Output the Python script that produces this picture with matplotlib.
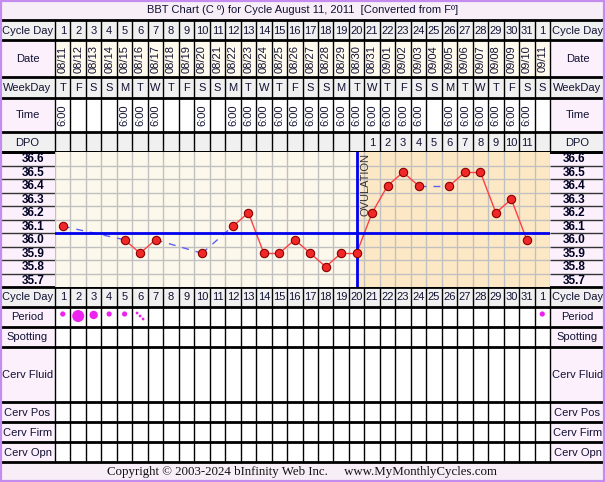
import matplotlib
matplotlib.use('Agg')
import matplotlib.pyplot as plt
from matplotlib.patches import Rectangle, Circle

plt.rcParams['font.family'] = ['Liberation Sans', 'DejaVu Sans']

# chart data
title = 'BBT Chart (C º) for Cycle August 11, 2011  [Converted from Fº]'
cycle_days = [str(d) for d in range(1, 32)] + ['1']
dates = ['08/%02d' % d for d in range(11, 32)] + ['09/%02d' % d for d in range(1, 12)]
weekdays = list('TFSSMTWTFSSMTWTFSSMTWTFSSMTWTFSS')
times = ['6:00', '', '', '', '6:00', '6:00', '6:00', '', '', '6:00', '', '6:00', '6:00',
         '6:00', '6:00', '6:00', '6:00', '6:00', '6:00', '6:00', '6:00', '6:00', '6:00',
         '6:00', '', '6:00', '6:00', '6:00', '6:00', '6:00', '6:00', '']
dpo = [''] * 20 + [str(i) for i in range(1, 12)] + ['']
temps = [36.1, None, None, None, 36.0, 35.9, 36.0, None, None, 35.9, None, 36.1, 36.2,
         35.9, 35.9, 36.0, 35.9, 35.8, 35.9, 35.9, 36.2, 36.4, 36.5, 36.4, None, 36.4,
         36.5, 36.5, 36.2, 36.3, 36.0]
temp_labels = ['36.6', '36.5', '36.4', '36.3', '36.2', '36.1', '36.0', '35.9', '35.8', '35.7']
coverline = 36.05
ovulation_day = 20
period = {1: 'light', 2: 'heavy', 3: 'medium', 4: 'light', 5: 'light', 6: 'spot', 32: 'light'}
copyright_text = 'Copyright © 2003-2024 bInfinity Web Inc.     www.MyMonthlyCycles.com'

W, H = 605, 482
fig = plt.figure(figsize=(W / 100, H / 100), dpi=100)
bg = fig.add_axes([0, 0, 1, 1])
bg.set_xlim(0, W)
bg.set_ylim(H, 0)
bg.axis('off')

x0, x1 = 55, 550
n = len(cycle_days)
cw = (x1 - x0) / n
txt = '#111133'
lav = '#fcf0fc'
gray = '#f0f0f0'

def rect(x, y, w, h, fc):
    bg.add_patch(Rectangle((x, y), w, h, fc=fc, ec='none', zorder=0))

def hline(y, lw=2, xa=0, xb=W, c='black'):
    bg.plot([xa, xb], [y, y], color=c, lw=lw, zorder=2, solid_capstyle='butt')

def vlines(ya, yb, c='black', lw=1):
    for i in range(n + 1):
        x = x0 + i * cw
        bg.plot([x, x], [ya, yb], color=c, lw=lw, zorder=2)

# title row
rect(0, 0, W, 20, '#f8eef8')
bg.text(303, 10, title, ha='center', va='center', fontsize=8, color=txt)

# header rows: (name, top, bottom, label bg, cell bg, values, rotation)
rows = [
    ('Cycle Day', 20, 40, gray, gray, cycle_days, 0),
    ('Date', 40, 77, lav, '#fffaee', dates, 90),
    ('WeekDay', 77, 98, gray, gray, weekdays, 0),
    ('Time', 98, 132, lav, 'white', times, 90),
    ('DPO', 132, 152, gray, gray, dpo, 0),
]
for name, ya, yb, lbg, cbg, vals, rot in rows:
    rect(0, ya, x0, yb - ya, lbg)
    rect(x1, ya, W - x1, yb - ya, lbg)
    rect(x0, ya, x1 - x0, yb - ya, cbg)
    ym = (ya + yb) / 2
    bg.text(x0 / 2, ym + 0.5, name, ha='center', va='center', fontsize=8, color=txt)
    bg.text((x1 + W) / 2, ym + 0.5, name, ha='center', va='center', fontsize=8, color=txt)
    for i, v in enumerate(vals):
        bg.text(x0 + (i + 0.5) * cw, ym + 0.5, v, ha='center', va='center', fontsize=8,
                rotation=rot, color=txt)
    vlines(ya, yb)
    hline(yb)
hline(20)

# temperature area label columns
ty0, ty1 = 152, 287
rect(0, ty0, x0, ty1 - ty0, lav)
rect(x1, ty0, W - x1, ty1 - ty0, lav)
rh = (ty1 - ty0) / len(temp_labels)
for i, t in enumerate(temp_labels):
    ym = ty0 + (i + 0.5) * rh
    bg.text(33, ym + 0.5, t, ha='center', va='center', fontsize=8.5, fontweight='bold', color='#000022')
    bg.text(574, ym + 0.5, t, ha='center', va='center', fontsize=8.5, fontweight='bold', color='#000022')
    if i > 0:
        hline(ty0 + i * rh, lw=1, xa=0, xb=x0, c='#333333')
        hline(ty0 + i * rh, lw=1, xa=x1, xb=W, c='#333333')

# bottom rows
brows = [
    ('Cycle Day', 287, 307, gray, gray, cycle_days),
    ('Period', 307, 327, lav, 'white', None),
    ('Spotting', 327, 347, lav, 'white', None),
    ('Cerv Fluid', 347, 402, lav, 'white', None),
    ('Cerv Pos', 402, 422, lav, 'white', None),
    ('Cerv Firm', 422, 442, lav, 'white', None),
    ('Cerv Opn', 442, 462, lav, 'white', None),
]
for name, ya, yb, lbg, cbg, vals in brows:
    rect(0, ya, x0, yb - ya, lbg)
    rect(x1, ya, W - x1, yb - ya, lbg)
    rect(x0, ya, x1 - x0, yb - ya, cbg)
    ym = (ya + yb) / 2
    bg.text(x0 / 2, ym + 0.5, name, ha='center', va='center', fontsize=8, color=txt)
    bg.text((x1 + W) / 2, ym + 0.5, name, ha='center', va='center', fontsize=8, color=txt)
    if vals:
        for i, v in enumerate(vals):
            bg.text(x0 + (i + 0.5) * cw, ym + 0.5, v, ha='center', va='center', fontsize=8, color=txt)
    vlines(ya, yb)
    hline(yb)
hline(287)
hline(152)

# period markers
pc = '#ee22ee'
sizes = {'light': 2.6, 'medium': 4.2, 'heavy': 6.0}
for d, kind in period.items():
    cx = x0 + (d - 0.5) * cw
    if kind == 'spot':
        for dx, dy in [(-3, -4), (0, -1), (3, 2)]:
            bg.add_patch(Circle((cx + dx, 317 + dy), 1.4, fc=pc, ec='none', zorder=3))
    else:
        r = sizes[kind]
        cy = 314 + (r - 2.6) * 0.6
        bg.add_patch(Circle((cx, cy), r, fc=pc, ec='none', zorder=3))

# copyright
rect(0, 462, W, 20, '#f8eef8')
bg.text(302, 472.5, copyright_text, ha='center', va='center', fontsize=9.3,
        family=['Liberation Serif', 'DejaVu Serif'], color='#111111')

# outer border
bg.add_patch(Rectangle((0.8, 0.8), W - 1.6, H - 1.6, fc='none', ec='#c58cf0', lw=1.6, zorder=5))

# temperature chart
ax = fig.add_axes([x0 / W, 1 - ty1 / H, (x1 - x0) / W, (ty1 - ty0) / H])
ax.set_xlim(0.5, n + 0.5)
ax.set_ylim(35.65, 36.65)
ax.axis('off')
ax.patch.set_visible(False)
ax.axvspan(0.5, n + 0.5, color='#fdf8ec', zorder=0)
ax.axvspan(ovulation_day, n + 0.5, color='#fde8c6', zorder=0)
for i in range(n + 1):
    ax.axvline(i + 0.5, color='#c0c0c0', lw=1, zorder=1)
for k in range(1, len(temp_labels)):
    ax.axhline(36.65 - k * 0.1, color='#c0c0c0', lw=1, zorder=1)

days = [i + 1 for i, t in enumerate(temps) if t is not None]
vals = [t for t in temps if t is not None]
for (da, ta), (db, tb) in zip(zip(days, vals), zip(days[1:], vals[1:])):
    if db - da == 1:
        ax.plot([da, db], [ta, tb], color='#ff4040', lw=1, zorder=3)
    else:
        ax.plot([da, db], [ta, tb], color='#6060f0', lw=1, ls=(0, (5, 5)), zorder=3)
ax.axhline(coverline, color='#0000ee', lw=2, zorder=4)
ax.axvline(ovulation_day, color='#0000ee', lw=2, zorder=4)
ax.text(ovulation_day + 0.25, 36.64, 'OVULATION', rotation=90, ha='left', va='top',
        fontsize=8, color='#333333', zorder=4)
ax.plot(days, vals, 'o', ms=6, mfc='#f02828', mec='#8a0000', mew=0.8, zorder=5)

fig.savefig('out.png', dpi=100)
